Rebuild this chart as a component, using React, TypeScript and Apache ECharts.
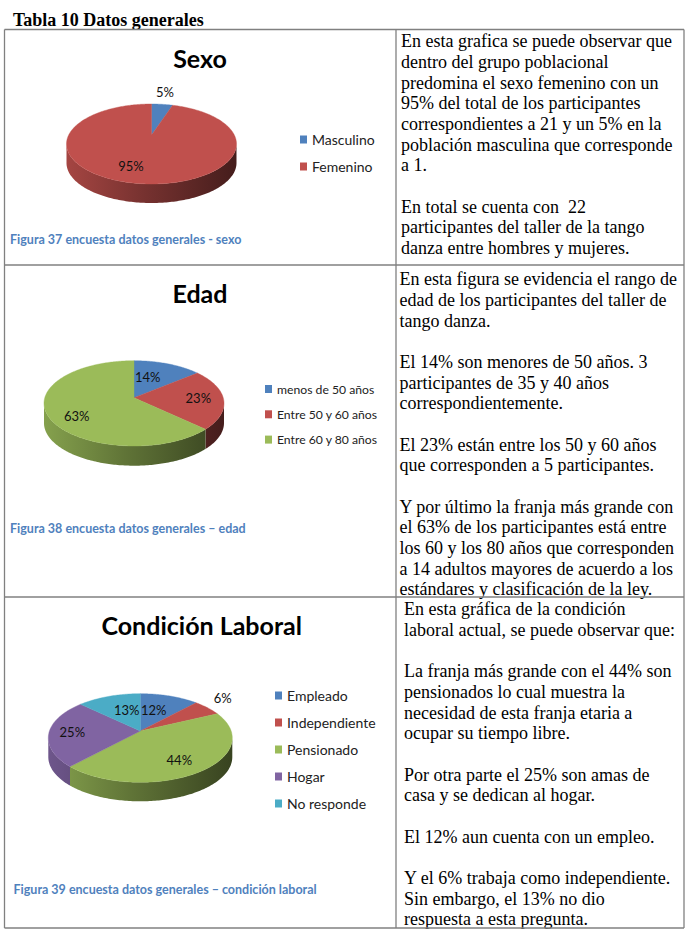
import React, { useEffect, useRef } from "react";
import * as echarts from "echarts";

// ---- data ----
const tableTitle = "Tabla 10 Datos generales";

const sexoCategories = ["Masculino", "Femenino"];
const sexoValues = [5, 95];

const edadCategories = ["menos de 50 años", "Entre 50 y 60 años", "Entre 60 y 80 años"];
const edadValues = [14, 23, 63];

const laboralCategories = ["Empleado", "Independiente", "Pensionado", "Hogar", "No responde"];
const laboralValues = [12, 6, 44, 25, 13];

const sexoTitle = "Sexo";
const edadTitle = "Edad";
const laboralTitle = "Condición Laboral";

const sexoCaption = "Figura 37 encuesta datos generales - sexo";
const edadCaption = "Figura 38 encuesta datos generales – edad";
const laboralCaption = "Figura 39 encuesta datos generales – condición laboral";

const sexoText = [
  "En esta grafica se puede observar que",
  "dentro del grupo poblacional",
  "predomina el sexo femenino con un",
  "95% del total de los participantes",
  "correspondientes a 21 y un 5% en la",
  "población masculina que corresponde",
  "a 1.",
  "",
  "En total se cuenta con  22",
  "participantes del taller de la tango",
  "danza entre hombres y mujeres.",
];
const edadText = [
  "En esta figura se evidencia el rango de",
  "edad de los participantes del taller de",
  "tango danza.",
  "",
  "El 14% son menores de 50 años. 3",
  "participantes de 35 y 40 años",
  "correspondientemente.",
  "",
  "El 23% están entre los 50 y 60 años",
  "que corresponden a 5 participantes.",
  "",
  "Y por último la franja más grande con",
  "el 63% de los participantes está entre",
  "los 60 y los 80 años que corresponden",
  "a 14 adultos mayores de acuerdo a los",
  "estándares y clasificación de la ley.",
];
const laboralText = [
  "En esta gráfica de la condición",
  "laboral actual, se puede observar que:",
  "",
  "La franja más grande con el 44% son",
  "pensionados lo cual muestra la",
  "necesidad de esta franja etaria a",
  "ocupar su tiempo libre.",
  "",
  "Por otra parte el 25% son amas de",
  "casa y se dedican al hogar.",
  "",
  "El 12% aun cuenta con un empleo.",
  "",
  "Y el 6% trabaja como independiente.",
  "Sin embargo, el 13% no dio",
  "respuesta a esta pregunta.",
];

// ---- styles and layout ----
const palette = ["#4f81bd", "#c0504d", "#9bbb59", "#8064a2", "#4bacc6"];
const SANS = "Lato, 'Open Sans', sans-serif";
const SERIF = "'Liberation Serif', serif";
const GRID = "#808080";
const CAPTION = "#4f81bd";

const pies = [
  {
    key: "sexo",
    names: sexoCategories,
    values: sexoValues,
    colors: [palette[0], palette[1]],
    cx: 151.5,
    cy: 135,
    halfWidth: 85,
    back: 31,
    front: 49,
    depth: 19,
    labelOffsets: [[13.5, -43.3], [-20.5, 31]],
  },
  {
    key: "edad",
    names: edadCategories,
    values: edadValues,
    colors: [palette[0], palette[1], palette[2]],
    cx: 134,
    cy: 397.7,
    halfWidth: 90,
    back: 37,
    front: 48.3,
    depth: 19.7,
    labelOffsets: [[13.7, -20.7], [64.3, 0.6], [-57.3, 18.3]],
  },
  {
    key: "laboral",
    names: laboralCategories,
    values: laboralValues,
    colors: palette,
    cx: 140.3,
    cy: 731,
    halfWidth: 92,
    back: 37.3,
    front: 51.3,
    depth: 19,
    labelOffsets: [[13.4, -21.3], [82.4, -32.7], [39, 29], [-68, 1], [-13.6, -21.3]],
  },
];

function shade(hex: string, f: number) {
  const n = parseInt(hex.slice(1), 16);
  const c = [(n >> 16) & 255, (n >> 8) & 255, n & 255].map((v) => Math.round(v * f));
  return `rgb(${c[0]},${c[1]},${c[2]})`;
}

function projector(p: any) {
  const b = 2 / (1 / p.back + 1 / p.front);
  const k = b / p.back - 1;
  const a = p.halfWidth * Math.sqrt(1 - k * k);
  return {
    k,
    at(theta: number) {
      const u = Math.sin(theta);
      const v = Math.cos(theta);
      const w = 1 + k * v;
      return [p.cx + (a * u) / w, p.cy - (b * v) / w];
    },
  };
}

function sliceSeries(p: any, idx: number, from: number, to: number) {
  const proj = projector(p);
  const color = p.colors[idx];
  return {
    type: "custom",
    name: p.names[idx],
    coordinateSystem: "none",
    silent: true,
    itemStyle: { color },
    z: 2,
    data: [[from, to]],
    renderItem: (_params: any, api: any) => {
      const total = 100;
      const t1 = (api.value(0) / total) * Math.PI * 2;
      const t2 = (api.value(1) / total) * Math.PI * 2;
      const step = Math.PI / 180;
      const sample = (s: number, e: number) => {
        const pts: number[][] = [];
        for (let t = s; t < e; t += step) pts.push(proj.at(t));
        pts.push(proj.at(e));
        return pts;
      };
      const children: any[] = [];
      const tangent = Math.acos(-proj.k);
      const w1 = Math.max(t1, tangent);
      const w2 = Math.min(t2, Math.PI * 2 - tangent);
      if (w2 > w1) {
        const rim = sample(w1, w2);
        const lower = rim.map((q) => [q[0], q[1] + p.depth]).reverse();
        children.push({
          type: "polygon",
          z2: 1,
          shape: { points: rim.concat(lower) },
          style: {
            fill: new echarts.graphic.LinearGradient(
              p.cx - p.halfWidth,
              0,
              p.cx + p.halfWidth,
              0,
              [
                { offset: 0, color: shade(color, 0.86) },
                { offset: 0.45, color: shade(color, 0.62) },
                { offset: 1, color: shade(color, 0.36) },
              ],
              true
            ),
          },
        });
      }
      children.push({
        type: "polygon",
        z2: 2,
        shape: { points: [[p.cx, p.cy], ...sample(t1, t2)] },
        style: { fill: color, stroke: color, lineWidth: 0.4 },
      });
      return { type: "group", children };
    },
  };
}

function labelSeries(p: any) {
  return {
    type: "custom",
    name: p.key + "-etiquetas",
    coordinateSystem: "none",
    silent: true,
    z: 5,
    data: p.values.map((v: number) => [v]),
    renderItem: (params: any, api: any) => {
      const off = p.labelOffsets[params.dataIndex];
      return {
        type: "text",
        style: {
          text: `${api.value(0)}%`,
          x: p.cx + off[0],
          y: p.cy + off[1],
          align: "center",
          verticalAlign: "middle",
          font: `13px ${SANS}`,
          fill: "#111",
        },
      };
    },
  };
}

function allSeries() {
  const out: any[] = [];
  pies.forEach((p) => {
    let acc = 0;
    p.values.forEach((v: number, i: number) => {
      out.push(sliceSeries(p, i, acc, acc + v));
      acc += v;
    });
  });
  pies.forEach((p) => out.push(labelSeries(p)));
  return out;
}

function legendFor(names: string[], left: number, top: number, gap: number, size: number) {
  return {
    orient: "vertical",
    left,
    top,
    padding: 0,
    data: names,
    itemWidth: 7,
    itemHeight: 8,
    itemGap: gap,
    icon: "rect",
    selectedMode: false,
    textStyle: { fontFamily: SANS, fontSize: size, color: "#222" },
  };
}

function titleFor(text: string, center: number, top: number, size: number) {
  return {
    text,
    left: center,
    top,
    textAlign: "center",
    padding: 0,
    textStyle: { fontFamily: SANS, fontSize: size, fontWeight: "bold", color: "#000" },
  };
}

const LH = 20.67;

function serifBlock(lines: string[], x: number, y: number) {
  return {
    type: "text",
    style: {
      text: lines.join("\n"),
      x,
      y,
      font: `18px ${SERIF}`,
      lineHeight: LH,
      fill: "#000",
    },
  };
}

function caption(text: string, x: number, y: number) {
  return {
    type: "text",
    style: {
      text,
      x,
      y,
      verticalAlign: "middle",
      font: `bold 12.5px ${SANS}`,
      fill: CAPTION,
    },
  };
}

function rule(x1: number, y1: number, x2: number, y2: number) {
  return {
    type: "line",
    shape: { x1, y1, x2, y2 },
    style: { stroke: GRID, lineWidth: 1.3 },
    z: 1,
  };
}

export default function App() {
  const ref = useRef<HTMLDivElement | null>(null);
  useEffect(() => {
    const chart = echarts.init(ref.current!, undefined, { renderer: "svg" });
    chart.setOption({
      animation: false,
      backgroundColor: "#ffffff",
      title: [
        titleFor(sexoTitle, 200, 45, 25),
        titleFor(edadTitle, 200, 280, 25),
        titleFor(laboralTitle, 201.7, 612, 25),
      ],
      legend: [
        legendFor(sexoCategories, 300, 132.5, 13, 14),
        legendFor(edadCategories, 265, 383, 13.3, 12.2),
        legendFor(laboralCategories, 275, 688.5, 13, 14),
      ],
      series: allSeries(),
      graphic: {
        elements: [
          rule(4.5, 29.5, 684, 29.5),
          rule(4.5, 265, 684, 265),
          rule(4.5, 597, 684, 597),
          rule(4.5, 928, 684, 928),
          rule(4.5, 29.5, 4.5, 928),
          rule(396, 29.5, 396, 928),
          rule(684, 29.5, 684, 928),
          {
            type: "text",
            style: { text: tableTitle, x: 13, y: 20, verticalAlign: "middle", font: `bold 18px ${SERIF}`, fill: "#000" },
          },
          serifBlock(sexoText, 401, 31),
          serifBlock(edadText, 399.5, 269),
          serifBlock(laboralText, 404, 599),
          caption(sexoCaption, 10, 239.5),
          caption(edadCaption, 10, 528),
          caption(laboralCaption, 13.5, 889),
        ],
      },
    });
    return () => chart.dispose();
  }, []);
  return <div ref={ref} style={{ position: "absolute", left: 0, top: 0, width: 693, height: 940 }} />;
}
